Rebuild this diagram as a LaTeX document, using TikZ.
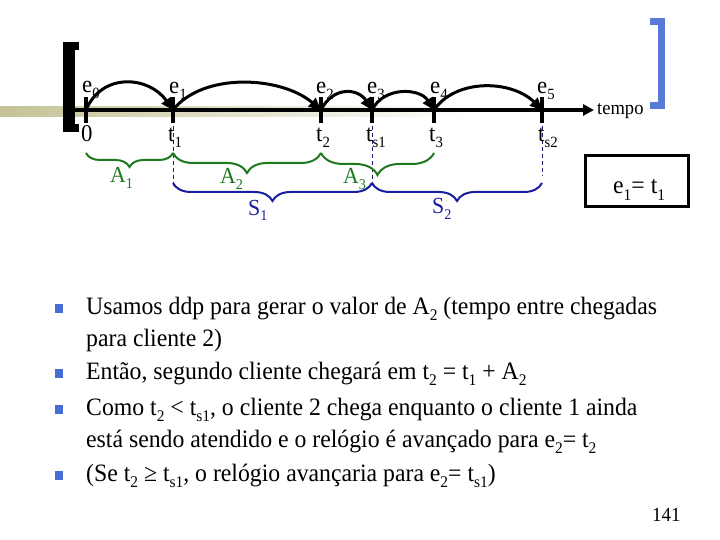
\documentclass[tikz,border=0pt]{standalone}
\usepackage{fontspec}
\setmainfont[FakeStretch=0.95]{Liberation Serif}
\usetikzlibrary{arrows.meta,decorations.pathreplacing}
\definecolor{bandol}{RGB}{196,194,150}
\definecolor{brgreen}{RGB}{30,120,30}
\definecolor{brblue}{RGB}{25,30,160}
\definecolor{dashnavy}{RGB}{30,30,110}
\definecolor{bulblue}{RGB}{72,108,214}
\definecolor{brackblue}{RGB}{88,122,214}
\newcommand{\subx}[1]{\raisebox{-0.25em}{\scalebox{0.65}{#1}}}
\begin{document}
\begin{tikzpicture}[x=1pt,y=-1pt,
  lbl/.style={font=\fontsize{24}{26}\selectfont, inner sep=0pt, anchor=base west},
  bodytxt/.style={font=\fontsize{25}{28}\selectfont, inner sep=0pt, anchor=base west},
  tickmark/.style={line width=3.5pt},
  arcarrow/.style={line width=3pt, -{Triangle[length=12pt,width=11pt]}},
  gbrace/.style={draw=brgreen, line width=2pt, decorate, decoration={brace,mirror,amplitude=#1}},
  bbrace/.style={draw=brblue, line width=2pt, decorate, decoration={brace,mirror,amplitude=#1}},
  vdash/.style={draw=dashnavy, line width=0.9pt, dash pattern=on 4pt off 3pt},
  bul/.style={fill=bulblue, draw=none, minimum width=8pt, minimum height=9pt, inner sep=0pt}
]
\useasboundingbox (0,0) rectangle (720,540);

% olive band
\shade[left color=bandol, right color=white, draw=none] (0,107) rectangle (470,117);

% black bracket
\fill[black] (63,42) rectangle (75,132);
\fill[black] (63,42) rectangle (79,50);
\fill[black] (63,124) rectangle (79,132);
% blue bracket
\fill[brackblue] (658,18) rectangle (665,109);
\fill[brackblue] (650,18) rectangle (665,25);
\fill[brackblue] (650,102) rectangle (665,109);

% axis points
\coordinate (ax0) at (73,110);
\coordinate (axE) at (594,110);
\coordinate (p0) at (86,110);
\coordinate (p1) at (173,110);
\coordinate (p2) at (321,110);
\coordinate (ps1) at (372,110);
\coordinate (p3) at (434,110);
\coordinate (ps2) at (542,110);

% dashed guides
\draw[vdash] (173,126) -- (173,186);
\draw[vdash] (372,126) -- (372,186);
\draw[vdash] (542,126) -- (542,176);

% axis
\draw[line width=3.5pt, -{Triangle[length=11pt,width=11pt]}] (ax0) -- (axE);
\node[lbl, font=\fontsize{19.5}{21}\selectfont] (tempo) at (597,115) {tempo};

% ticks
\foreach \p in {p0,p1,p2,ps1,p3,ps2}{
  \draw[tickmark] ([yshift=-13pt]\p) -- ([yshift=13pt]\p);
}

% arcs
\draw[arcarrow] (p0) .. controls +(16,-38) and +(-24,-34) .. (p1);
\draw[arcarrow] (p1) .. controls +(30,-38) and +(-40,-34) .. (p2);
\draw[arcarrow] (p2) .. controls +(12,-24) and +(-14,-22) .. (ps1);
\draw[arcarrow] (ps1) .. controls +(12,-24) and +(-14,-22) .. (p3);
\draw[arcarrow] (p3) .. controls +(22,-32) and +(-30,-30) .. (ps2);

% labels above
\node[lbl] (e0) at (82,93) {e\subx{0}};
\node[lbl] (e1) at (169,94) {e\subx{1}};
\node[lbl] (e2) at (316,94) {e\subx{2}};
\node[lbl] (e3) at (367,94) {e\subx{3}};
\node[lbl] (e4) at (430,94) {e\subx{4}};
\node[lbl] (e5) at (537,94) {e\subx{5}};
% labels below
\node[lbl] (l0) at (81,142) {0};
\node[lbl] (t1) at (168,142) {t\subx{1}};
\node[lbl] (t2) at (316,142) {t\subx{2}};
\node[lbl] (ts1) at (366,142) {t\subx{s1}};
\node[lbl] (t3) at (429,142) {t\subx{3}};
\node[lbl] (ts2) at (538,142) {t\subx{s2}};

% braces
\draw[gbrace=14pt] (86,153) -- (173,153);
\draw[gbrace=20pt] (173,153) -- (321,153);
\draw[gbrace=22pt] (321,153) -- (434,153);
\draw[bbrace=18pt] (173,183) -- (372,183);
\draw[bbrace=18pt] (372,183) -- (542,183);

\node[lbl, text=brgreen, font=\fontsize{23}{25}\selectfont] (A1) at (110,183) {A\subx{1}};
\node[lbl, text=brgreen, font=\fontsize{23}{25}\selectfont] (A2) at (220,184) {A\subx{2}};
\node[lbl, text=brgreen, font=\fontsize{23}{25}\selectfont] (A3) at (343,184) {A\subx{3}};
\node[lbl, text=brblue, font=\fontsize{23}{25}\selectfont] (S1) at (248,215) {S\subx{1}};
\node[lbl, text=brblue, font=\fontsize{23}{25}\selectfont] (S2) at (432,214) {S\subx{2}};

% box
\draw[line width=3pt] (585,156) rectangle (688,207);
\node[lbl, font=\fontsize{25}{27}\selectfont] (eq) at (613,194) {e\subx{1}= t\subx{1}};

% bullets
\node[bul] (b1) at (59,308) {};
\node[bul] (b2) at (59,373) {};
\node[bul] (b3) at (59,409) {};
\node[bul] (b4) at (59,475) {};

\node[bodytxt] (L1) at (86,314) {Usamos ddp para gerar o valor de A\subx{2} (tempo entre chegadas};
\node[bodytxt] (L2) at (86,346) {para cliente 2)};
\node[bodytxt] (L3) at (86,379) {Então, segundo cliente chegará em t\subx{2} = t\subx{1} + A\subx{2}};
\node[bodytxt] (L4) at (86,415) {Como t\subx{2} < t\subx{s1}, o cliente 2 chega enquanto o cliente 1 ainda};
\node[bodytxt] (L5) at (86,447) {está sendo atendido e o relógio é avançado para e\subx{2}= t\subx{2}};
\node[bodytxt] (L6) at (86,481) {(Se t\subx{2} ≥ t\subx{s1}, o relógio avançaria para e\subx{2}= t\subx{s1})};

\node[lbl, font=\fontsize{20}{22}\selectfont] (pg) at (652,521) {141};
\end{tikzpicture}
\end{document}
